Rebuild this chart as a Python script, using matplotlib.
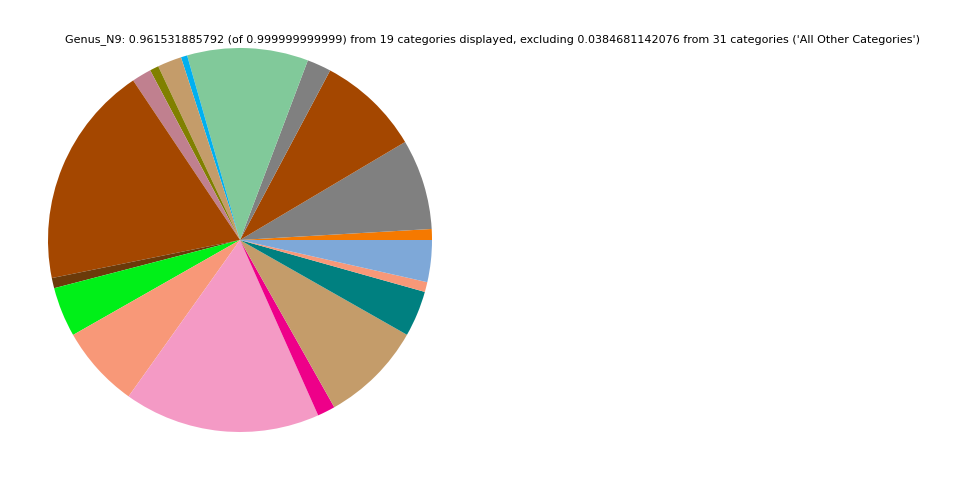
import matplotlib
matplotlib.use('Agg')
import matplotlib.pyplot as plt

# slice fractions, counterclockwise from 3 o'clock
values = [0.0088, 0.0732, 0.0836, 0.0195, 0.0980, 0.0051, 0.0195, 0.0072,
          0.0158, 0.1806, 0.0083, 0.0403, 0.0665, 0.1589, 0.0144, 0.0828,
          0.0371, 0.0080, 0.0339]
colors = ['#f57900', '#808080', '#a44700', '#808080', '#81c99a', '#00b0f0',
          '#c49c6a', '#808000', '#c0808f', '#a44700', '#6b3a0a', '#00f018',
          '#f89878', '#f49ac5', '#ee0089', '#c49c6a', '#008080', '#f89878',
          '#7ea8d8']
title = ("Genus_N9: 0.961531885792 (of 0.999999999999) from 19 categories displayed, "
         "excluding 0.0384681142076 from 31 categories ('All Other Categories')")

fig = plt.figure(figsize=(9.6, 4.8), dpi=100)
ax = fig.add_axes([0.05, 0.1, 0.4, 0.8])
ax.pie(values, colors=colors, startangle=0, counterclock=True, normalize=True)
ax.set_xlim(-1, 1)
ax.set_ylim(-1, 1)
ax.set_aspect('equal')
fig.text(0.513, 0.917, title, ha='center', va='center', fontsize=8)
fig.savefig('out.png', dpi=100)
